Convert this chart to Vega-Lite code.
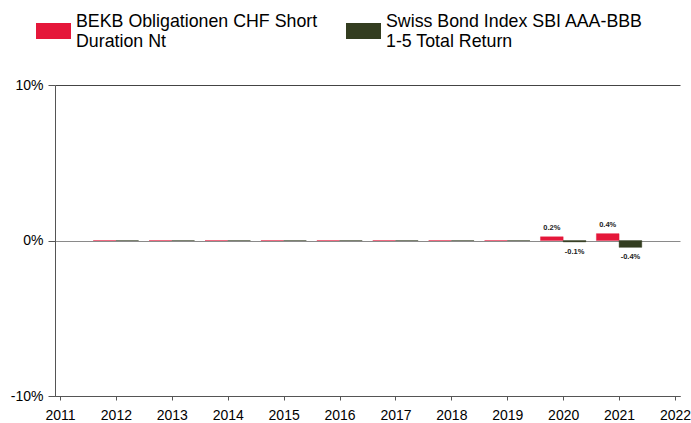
{
  "$schema": "https://vega.github.io/schema/vega-lite/v6.json",
  "width": 625,
  "height": 311,
  "autosize": {"type": "none"},
  "padding": {"left": 55, "top": 85, "right": 11, "bottom": 27},
  "background": "white",
  "config": {
    "view": {"stroke": null},
    "font": "Liberation Sans",
    "axis": {"labelFont": "Liberation Sans", "labelColor": "#000000", "labelFontSize": 14, "domainColor": "#555555", "tickColor": "#555555"}
  },
  "data": {
    "values": [
      {"year": 2012, "series": "BEKB Obligationen CHF Short Duration Nt", "value": 0},
      {"year": 2012, "series": "Swiss Bond Index SBI AAA-BBB 1-5 Total Return", "value": 0},
      {"year": 2013, "series": "BEKB Obligationen CHF Short Duration Nt", "value": 0},
      {"year": 2013, "series": "Swiss Bond Index SBI AAA-BBB 1-5 Total Return", "value": 0},
      {"year": 2014, "series": "BEKB Obligationen CHF Short Duration Nt", "value": 0},
      {"year": 2014, "series": "Swiss Bond Index SBI AAA-BBB 1-5 Total Return", "value": 0},
      {"year": 2015, "series": "BEKB Obligationen CHF Short Duration Nt", "value": 0},
      {"year": 2015, "series": "Swiss Bond Index SBI AAA-BBB 1-5 Total Return", "value": 0},
      {"year": 2016, "series": "BEKB Obligationen CHF Short Duration Nt", "value": 0},
      {"year": 2016, "series": "Swiss Bond Index SBI AAA-BBB 1-5 Total Return", "value": 0},
      {"year": 2017, "series": "BEKB Obligationen CHF Short Duration Nt", "value": 0},
      {"year": 2017, "series": "Swiss Bond Index SBI AAA-BBB 1-5 Total Return", "value": 0},
      {"year": 2018, "series": "BEKB Obligationen CHF Short Duration Nt", "value": 0},
      {"year": 2018, "series": "Swiss Bond Index SBI AAA-BBB 1-5 Total Return", "value": 0},
      {"year": 2019, "series": "BEKB Obligationen CHF Short Duration Nt", "value": 0},
      {"year": 2019, "series": "Swiss Bond Index SBI AAA-BBB 1-5 Total Return", "value": 0},
      {"year": 2020, "series": "BEKB Obligationen CHF Short Duration Nt", "value": 0.24, "label": "0.2%"},
      {"year": 2020, "series": "Swiss Bond Index SBI AAA-BBB 1-5 Total Return", "value": -0.09, "label": "-0.1%"},
      {"year": 2021, "series": "BEKB Obligationen CHF Short Duration Nt", "value": 0.44, "label": "0.4%"},
      {"year": 2021, "series": "Swiss Bond Index SBI AAA-BBB 1-5 Total Return", "value": -0.44, "label": "-0.4%"}
    ]
  },
  "encoding": {
    "x": {
      "field": "year", "type": "quantitative",
      "scale": {"domain": [2011, 2022], "nice": false, "zero": false},
      "axis": {"title": null, "values": [2011,2012,2013,2014,2015,2016,2017,2018,2019,2020,2021,2022], "format": "d", "grid": false, "tickSize": 4, "labelPadding": 8, "labelFlush": false, "labelOverlap": false}
    },
    "y": {
      "field": "value", "type": "quantitative",
      "scale": {"domain": [-10, 10], "nice": false},
      "axis": {"title": null, "values": [-10, 0, 10], "labelExpr": "datum.value + '%'", "grid": true, "gridColor": {"condition": {"test": "datum.value === 0", "value": "#8a8a8a"}, "value": "#444444"}, "gridOpacity": 1, "tickSize": 7, "labelPadding": 5, "labelFlush": false}
    }
  },
  "layer": [
    {
      "transform": [{"filter": "datum.series == 'BEKB Obligationen CHF Short Duration Nt'"}],
      "mark": {"type": "bar", "width": 22.7, "xOffset": -11.35, "stroke": "#E5173A", "strokeWidth": 0.4},
      "encoding": {
        "color": {
          "field": "series", "type": "nominal",
          "scale": {"domain": ["BEKB Obligationen CHF Short Duration Nt", "Swiss Bond Index SBI AAA-BBB 1-5 Total Return"], "range": ["#E5173A", "#333D20"]},
          "legend": {
            "orient": "none", "legendX": -19, "legendY": -72, "direction": "horizontal", "columns": 2,
            "title": null,
            "symbolType": "M-1,-0.457H1V0.457H-1Z", "symbolSize": 1225, "symbolStrokeWidth": 0,
            "labelFont": "Liberation Sans", "labelFontSize": 17.8, "labelLineHeight": 16.6, "labelColor": "#000000", "labelLimit": 400,
            "labelOffset": 5, "columnPadding": 28, "labelBaseline": "bottom",
            "labelExpr": "datum.label == 'BEKB Obligationen CHF Short Duration Nt' ? ['BEKB Obligationen CHF Short', 'Duration Nt'] : ['Swiss Bond Index SBI AAA-BBB', '1-5 Total Return']"
          }
        }
      }
    },
    {
      "transform": [{"filter": "datum.series != 'BEKB Obligationen CHF Short Duration Nt'"}],
      "mark": {"type": "bar", "width": 22.7, "xOffset": 11.35, "stroke": "#333D20", "strokeWidth": 0.4},
      "encoding": {"color": {"field": "series", "type": "nominal"}}
    },
    {
      "transform": [{"filter": "datum.series == 'BEKB Obligationen CHF Short Duration Nt' && isValid(datum.label)"}],
      "mark": {"type": "text", "xOffset": -11.35, "dy": -5, "baseline": "bottom", "fontSize": 7.5, "fontWeight": "bold", "color": "#222222", "font": "Liberation Sans"},
      "encoding": {"text": {"field": "label"}}
    },
    {
      "transform": [{"filter": "datum.series != 'BEKB Obligationen CHF Short Duration Nt' && isValid(datum.label)"}],
      "mark": {"type": "text", "xOffset": 11.35, "dy": 6, "baseline": "top", "fontSize": 7.5, "fontWeight": "bold", "color": "#222222", "font": "Liberation Sans"},
      "encoding": {"text": {"field": "label"}}
    }
  ]
}
